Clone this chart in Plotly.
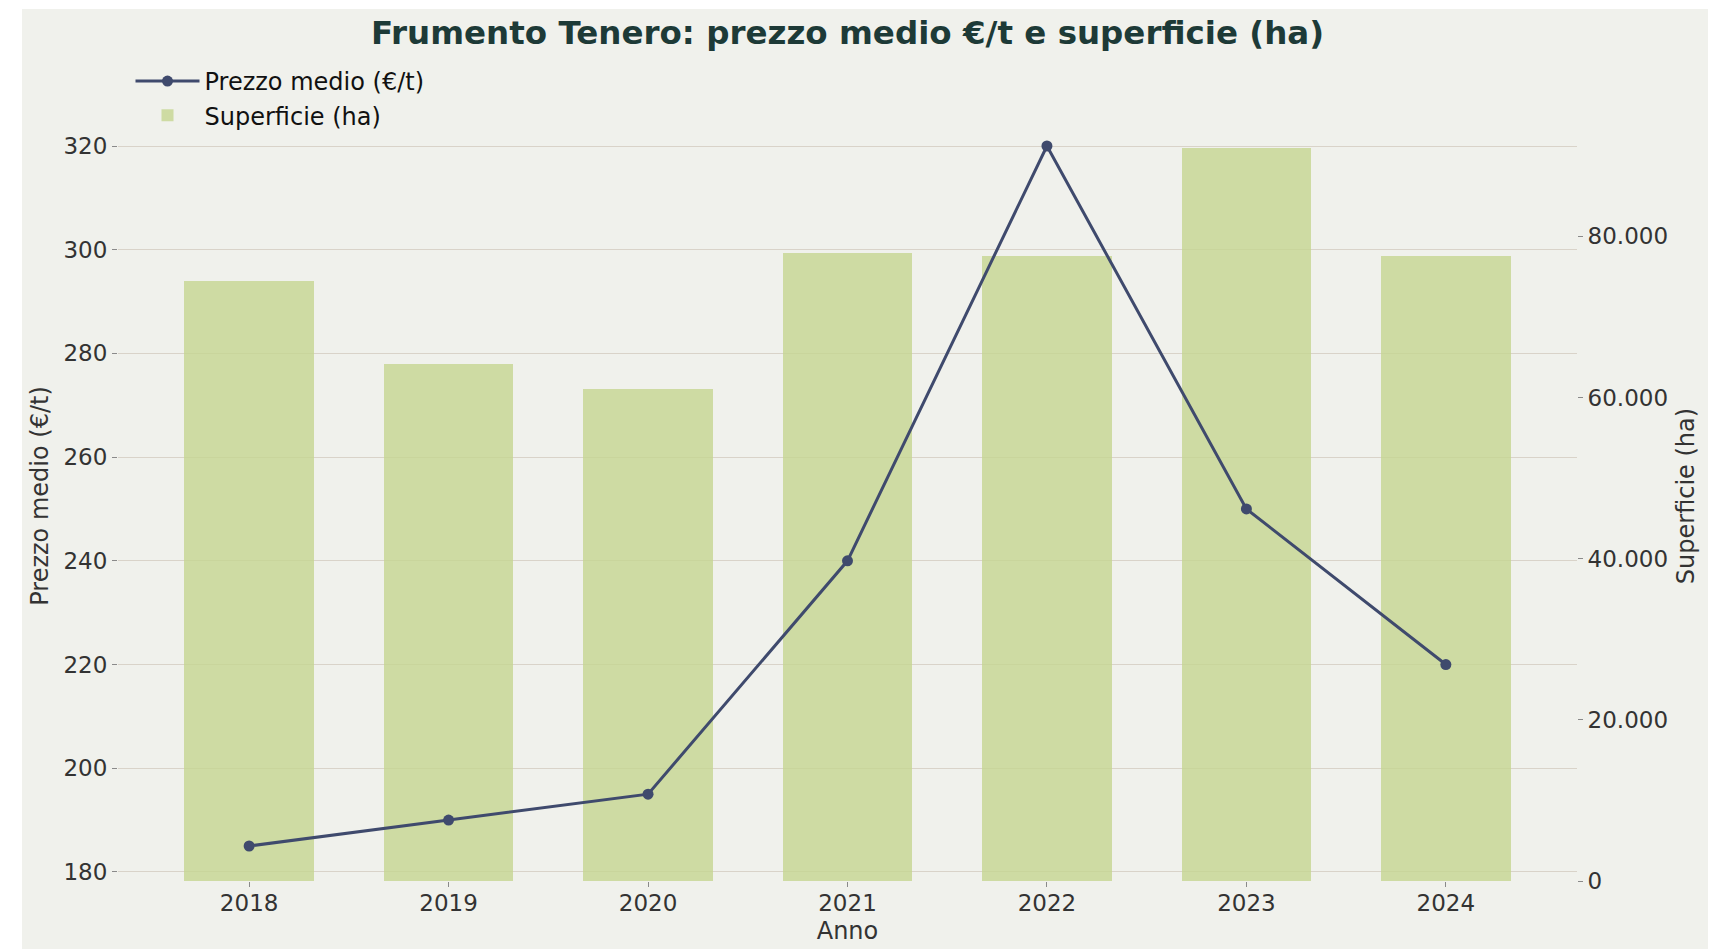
import plotly.graph_objects as go

# ---- data ----
anni = ["2018", "2019", "2020", "2021", "2022", "2023", "2024"]
prezzo_medio = [185, 190, 195, 240, 320, 250, 220]          # €/t
superficie = [74400, 64200, 61000, 77900, 77500, 91000, 77600]  # ha

titolo = "Frumento Tenero: prezzo medio €/t e superficie (ha)"
nome_prezzo = "Prezzo medio (€/t)"
nome_sup = "Superficie (ha)"

# ---- style ----
OFF = 8  # page body margin
W, H = 1716 - OFF, 949 - OFF
L, T = 118 - OFF, 111 - OFF
PW, PH = 1459, 770
R, B = W - L - PW, H - T - PH
BG = "#f0f1ec"
BAR = "rgba(198,214,146,0.82)"
LINE = "#3f4a6d"
GRID = "#d9d3c9"
TXT = "#333333"
FONT = "DejaVu Sans"
FS = 24

# matplotlib-like autoscale (5% margins)
bar_w = 0.65
n = len(anni)
xspan = (n - 1) + bar_w
xr = [-bar_w / 2 - 0.05 * xspan, n - 1 + bar_w / 2 + 0.05 * xspan]
pmin, pmax = min(prezzo_medio), max(prezzo_medio)
pr = [pmin - 0.05 * (pmax - pmin), pmax + 0.05 * (pmax - pmin)]
sr = [0, max(superficie) * 1.05]

fig = go.Figure()
fig.add_trace(go.Bar(
    x=anni, y=superficie, name=nome_sup, width=bar_w,
    marker=dict(color=BAR, line=dict(width=0)),
    xaxis="x", yaxis="y", legendrank=2, legendgroup="b",
))
fig.add_trace(go.Scatter(
    x=anni, y=prezzo_medio, name=nome_prezzo, mode="lines+markers",
    line=dict(color=LINE, width=3), marker=dict(color=LINE, size=11),
    xaxis="x", yaxis="y2", legendrank=1, legendgroup="a",
))

tickstyle = dict(ticks="outside", ticklen=5, tickwidth=1, tickcolor="#8a8a8a",
                 tickfont=dict(family=FONT, size=FS - 1, color=TXT))

fig.update_layout(
    width=W, height=H,
    margin=dict(l=L, r=R, t=T, b=B, autoexpand=False),
    paper_bgcolor="white", plot_bgcolor="rgba(0,0,0,0)",
    separators=",.",
    font=dict(family=FONT, size=FS, color=TXT),
    title=dict(text="<b>" + titolo + "</b>", x=0.5, xref="paper", xanchor="center",
               y=1 - (33 - OFF) / H, yref="container", yanchor="middle",
               font=dict(family=FONT, size=32.5, color="#1d3a37")),
    xaxis=dict(type="category", range=xr, showgrid=False, zeroline=False, showline=False,
               ticklabelstandoff=-4,
               title=dict(text="Anno", standoff=7, font=dict(family=FONT, size=FS, color=TXT)),
               **tickstyle),
    yaxis=dict(side="right", range=sr, tick0=0, dtick=20000, tickformat=",d",
               showgrid=False, zeroline=False, showline=False,
               title=dict(text=nome_sup, standoff=10, font=dict(family=FONT, size=FS, color=TXT)),
               **tickstyle),
    yaxis2=dict(side="left", overlaying="y", range=pr, tick0=180, dtick=20,
                showgrid=True, gridcolor=GRID, gridwidth=1, zeroline=False, showline=False,
                title=dict(text=nome_prezzo, standoff=8, font=dict(family=FONT, size=FS, color=TXT)),
                **tickstyle),
    legend=dict(x=12.5 / PW, y=1 + 52 / PH, xanchor="left", yanchor="top",
                bgcolor="rgba(0,0,0,0)", borderwidth=0,
                traceorder="grouped", tracegroupgap=0, itemwidth=64,
                font=dict(family=FONT, size=FS, color="#111111")),
    bargap=0, showlegend=True,
    shapes=[dict(type="rect", xref="paper", yref="paper", layer="below",
                 x0=(22 - OFF - L) / PW, x1=(1710 - OFF - L) / PW,
                 y0=-(B + 5) / PH, y1=(PH + T - (9 - OFF)) / PH,
                 fillcolor=BG, line=dict(width=0))],
)

fig.write_html("out.html")
